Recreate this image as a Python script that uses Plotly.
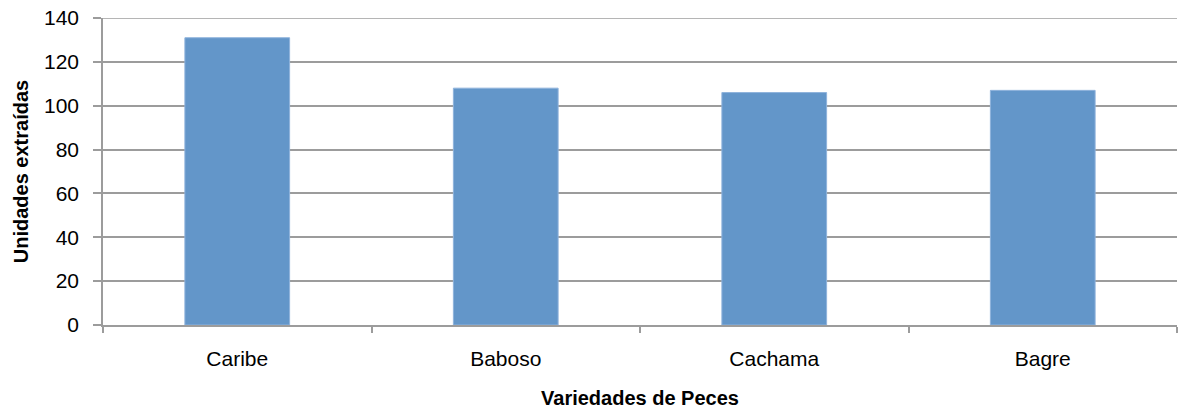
import plotly.graph_objects as go

categorias = ["Caribe", "Baboso", "Cachama", "Bagre"]
unidades = [131, 108, 106, 107]

eje_y_ticks = [0, 20, 40, 60, 80, 100, 120, 140]

fuente = "Liberation Sans, Arial, sans-serif"
gris = "#9c9c9c"

fig = go.Figure()
fig.add_trace(
    go.Bar(
        x=categorias,
        y=unidades,
        marker=dict(color="#6396c9", line=dict(color="#8fb3dc", width=1)),
        width=0.39,
    )
)

fig.update_layout(
    width=1184,
    height=416,
    margin=dict(l=103, r=7, t=18, b=91),
    plot_bgcolor="white",
    paper_bgcolor="white",
    showlegend=False,
    font=dict(family=fuente, size=21, color="black"),
)

fig.update_xaxes(
    type="category",
    automargin=False,
    tickson="boundaries",
    ticks="outside",
    ticklen=6,
    tickwidth=1.5,
    tickcolor=gris,
    showline=True,
    linecolor=gris,
    linewidth=1.5,
    showgrid=False,
    ticklabelstandoff=14,
    tickfont=dict(size=21),
    title=dict(
        text="<b>Variedades de Peces</b>",
        font=dict(size=20),
        standoff=22,
    ),
)

fig.update_yaxes(
    range=[0, 140],
    automargin=False,
    tickvals=eje_y_ticks,
    ticks="outside",
    ticklen=8,
    tickwidth=1.5,
    tickcolor=gris,
    showline=True,
    linecolor=gris,
    linewidth=1.5,
    showgrid=True,
    gridcolor=gris,
    gridwidth=1.5,
    zeroline=False,
    ticklabelstandoff=10,
    ticklabeloverflow="allow",
    tickfont=dict(size=21),
    title=dict(
        text="<b>Unidades extraídas</b>",
        font=dict(size=20),
        standoff=10,
    ),
)

# top gridline at 140, drawn as a shape so it is not dropped at the plot edge
fig.add_hline(y=eje_y_ticks[-1], line=dict(color=gris, width=1.5), layer="below")

# drop the default 8px body margin so the figure fills the window
fig.write_html(
    "out.html",
    config={"displayModeBar": False},
    post_script="document.body.style.margin = '0';",
)
